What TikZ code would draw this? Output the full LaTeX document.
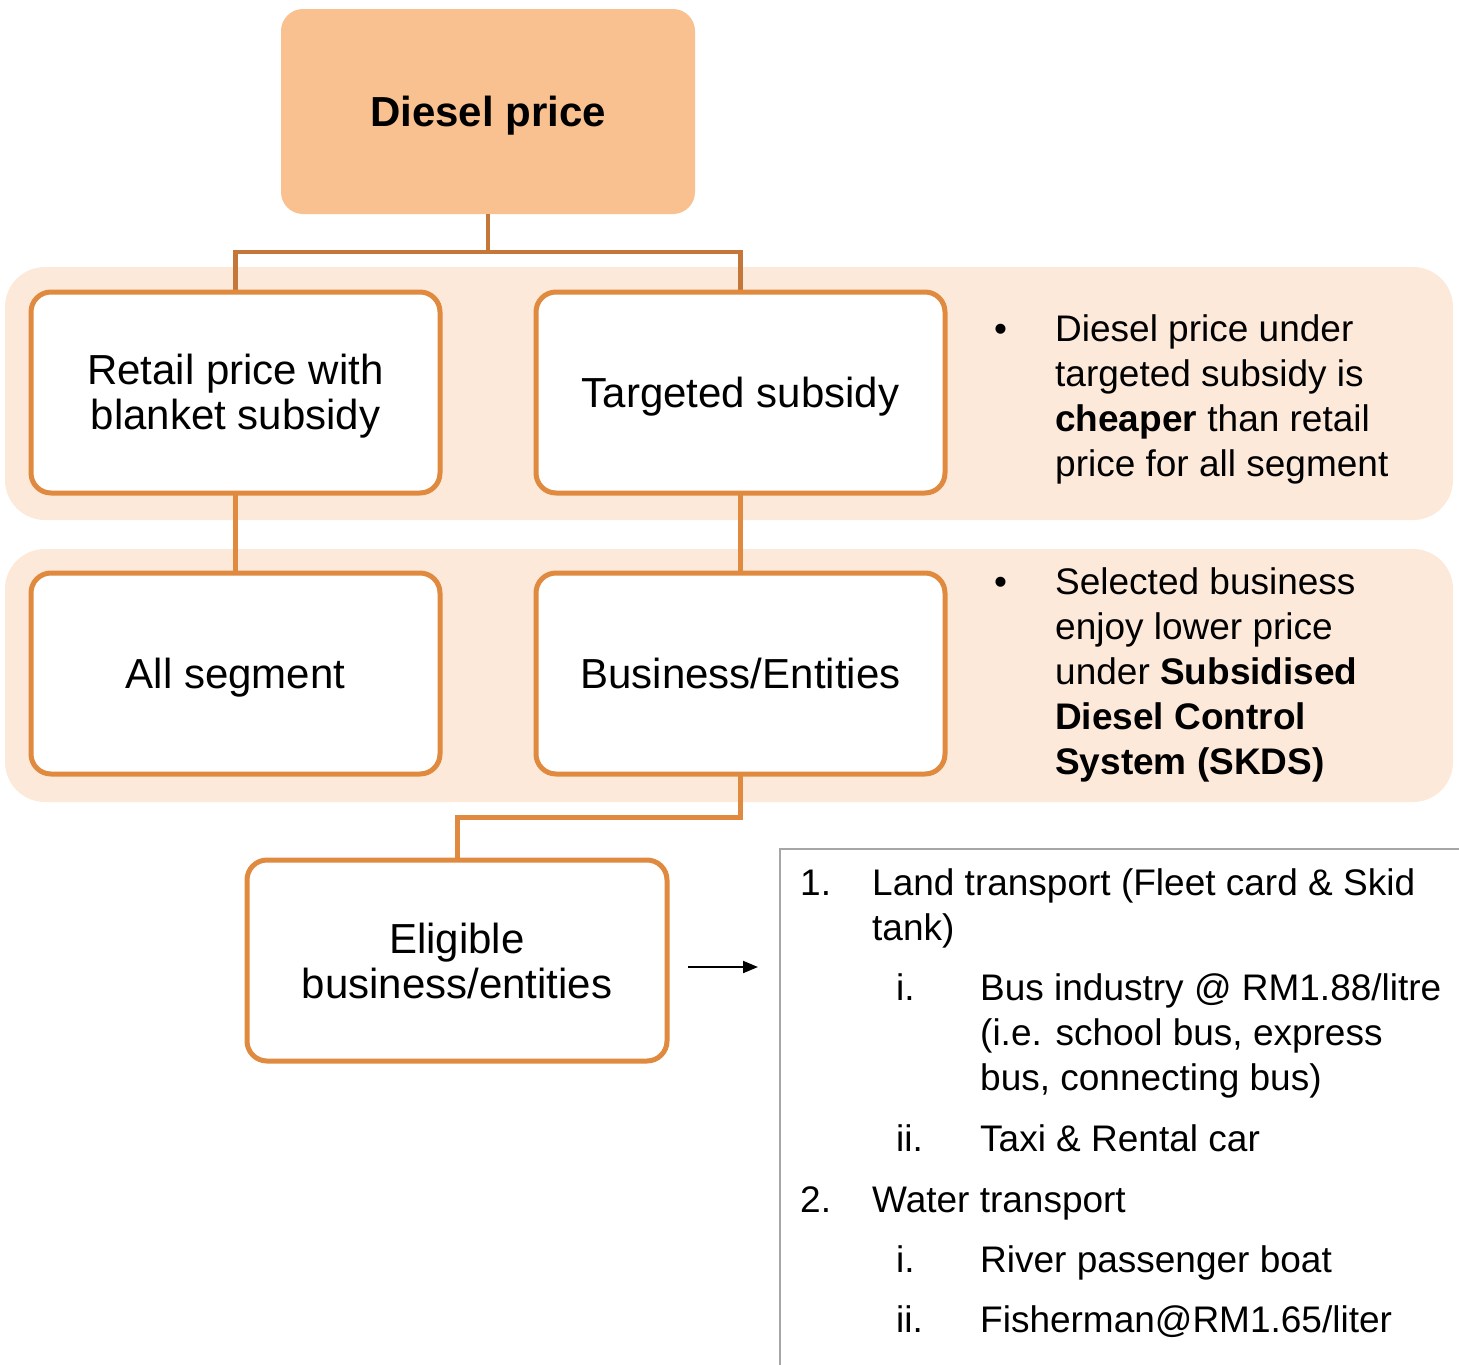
\documentclass[tikz,border=0pt]{standalone}
\usepackage{fontspec}
\setmainfont{Liberation Sans}
\usetikzlibrary{arrows.meta}
\definecolor{topfill}{HTML}{F9C090}
\definecolor{bandfill}{HTML}{FDE9D9}
\definecolor{boxorange}{HTML}{E08A40}
\definecolor{topline}{HTML}{C5773A}
\definecolor{framegray}{HTML}{A6A6A6}
\newcommand\boxfont{\fontsize{42}{45}\selectfont}
\newcommand\sidefont{\fontsize{37}{45}\selectfont}
\tikzset{
  orgbox/.style={draw=boxorange, line width=5pt, fill=white, rounded corners=20pt,
    minimum width=409pt, minimum height=201pt, align=center, font=\boxfont, inner sep=0pt},
  oneline/.style={text height=34pt, text depth=5pt},
  topbox/.style={fill=topfill, rounded corners=22pt, minimum width=414pt, minimum height=205pt,
    font=\boxfont\bfseries, inner sep=0pt, text height=34pt, text depth=5pt},
  band/.style={fill=bandfill, rounded corners=40pt},
  conn/.style={draw=boxorange, line width=5pt},
  topconn/.style={draw=topline, line width=4.5pt},
  sidetext/.style={font=\sidefont, anchor=base west, inner sep=0pt},
  listtext/.style={font=\sidefont, anchor=base west, inner sep=0pt},
  arrowline/.style={draw=black, line width=2pt, -{Triangle[length=15pt,width=12pt]}},
  frameline/.style={draw=framegray, line width=2pt}
}
\begin{document}
\begin{tikzpicture}[x=1pt,y=-1pt]
\useasboundingbox (0,0) rectangle (1459,1365);
% bands
\path[band] (5,267) rectangle (1453,520);
\path[band] (5,549) rectangle (1453,802);
% junction coordinates
\coordinate (j1) at (488,252);
\coordinate (j2) at (740.5,817);
% top node
\node[topbox] (top) at (488,111.5) {Diesel price};
% connectors
\draw[topconn] (top.south) -- (j1);
\draw[topconn] (235.5,292) |- (j1) -| (740.5,292);
\draw[conn] (235.5,493) -- (235.5,573);
\draw[conn] (740.5,493) -- (740.5,573);
\draw[conn] (740.5,774) -- (j2) -| (457,860);
% boxes
\node[orgbox] (retail) at (235.5,392.5) {\rule{0pt}{38pt}Retail price with\\blanket subsidy};
\node[orgbox, oneline] (target) at (740.5,392.5) {Targeted subsidy};
\node[orgbox, oneline] (allseg) at (235.5,673.5) {All segment};
\node[orgbox, oneline] (biz) at (740.5,673.5) {Business/Entities};
\node[orgbox, minimum width=420pt] (elig) at (457,960.5) {Eligible\\business/entities};
% side text 1
\node[sidetext] (b1) at (994,341) {•};
\node[sidetext] (t1a) at (1055,341) {Diesel price under};
\node[sidetext] (t1b) at (1055,386) {targeted subsidy is};
\node[sidetext] (t1c) at (1055,431) {\textbf{cheaper} than retail};
\node[sidetext] (t1d) at (1055,476) {price for all segment};
% side text 2
\node[sidetext] (b2) at (994,594) {•};
\node[sidetext] (t2a) at (1055,594) {Selected business};
\node[sidetext] (t2b) at (1055,639) {enjoy lower price};
\node[sidetext] (t2c) at (1055,684) {under \textbf{Subsidised}};
\node[sidetext] (t2d) at (1055,729) {\textbf{Diesel Control}};
\node[sidetext] (t2e) at (1055,774) {\textbf{System (SKDS)}};
% arrow
\coordinate (a1) at (688,967);
\coordinate (a2) at (758,967);
\draw[arrowline] (a1) -- (a2);
% frame
\coordinate (f1) at (780,1365);
\coordinate (f2) at (780,849);
\coordinate (f3) at (1459,849);
\draw[frameline] (f1) -- (f2) -- (f3);
% list
\node[listtext] (n1) at (800,895) {1.};
\node[listtext] (l1a) at (872,895) {Land transport (Fleet card \& Skid};
\node[listtext] (l1b) at (872,940) {tank)};
\node[listtext] (r1) at (896,1000) {i.};
\node[listtext] (l2a) at (980,1000) {Bus industry @ RM1.88/litre};
\node[listtext] (l2b) at (980,1045) {(i.e. school bus, express};
\node[listtext] (l2c) at (980,1090) {bus, connecting bus)};
\node[listtext] (r2) at (896,1151) {ii.};
\node[listtext] (l3) at (980,1151) {Taxi \& Rental car};
\node[listtext] (n2) at (800,1212) {2.};
\node[listtext] (l4) at (872,1212) {Water transport};
\node[listtext] (r3) at (896,1272) {i.};
\node[listtext] (l5) at (980,1272) {River passenger boat};
\node[listtext] (r4) at (896,1332) {ii.};
\node[listtext] (l6) at (980,1332) {Fisherman@RM1.65/liter};
\end{tikzpicture}
\end{document}
